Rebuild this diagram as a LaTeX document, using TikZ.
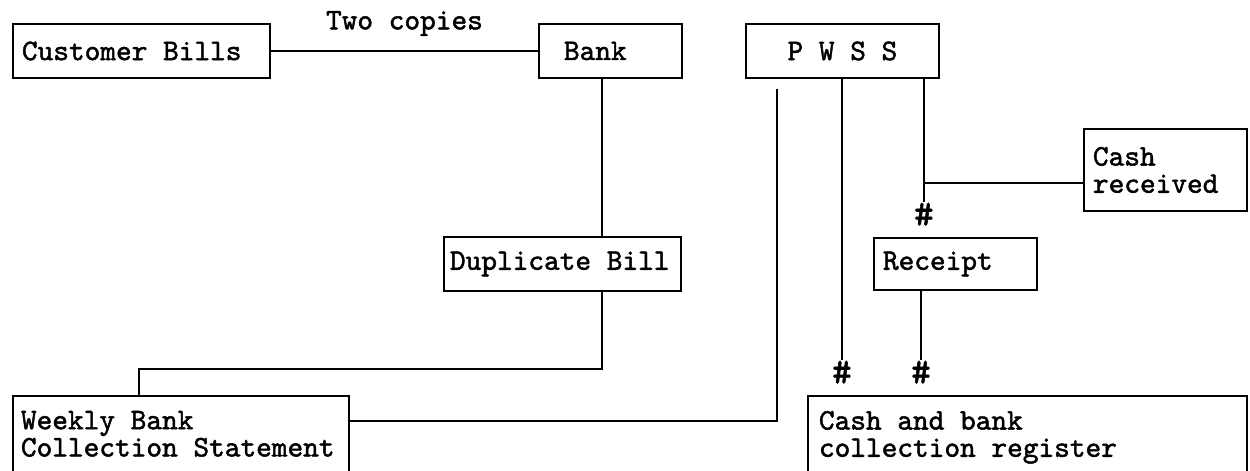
\documentclass[tikz,border=0pt]{standalone}
\usepackage{fontspec}
\newfontfamily\typer{lmmono10-regular.otf}[FakeBold=1.6]
\newcommand\typefont{\typer\fontsize{17pt}{15.5pt}\selectfont}
\usetikzlibrary{positioning}

\begin{document}
\begin{tikzpicture}[x=0.02cm, y=-0.02cm, line width=1.1pt, font=\typefont]
  \tikzstyle{block}=[draw=black,rectangle,anchor=north west,align=left,
                     inner ysep=0pt,text=black,
                     execute at begin node={\spaceskip=0.525em\xspaceskip=0.525em\relax}]
  \tikzstyle{hashmark}=[below,inner sep=0pt,font=\typer\fontsize{21pt}{21pt}\selectfont]

  \useasboundingbox (0,0) rectangle (1250,470);
  \clip (0,0) rectangle (1250,470);

  \node[block,inner xsep=0.18cm,text width=4.78cm,minimum height=1.08cm] (CB)   at (12,23)   {Customer Bills};
  \node[block,inner xsep=0.5cm,text width=1.86cm,minimum height=1.08cm]  (Bank) at (538,23)  {Bank};
  \node[block,inner xsep=0.5cm,text width=2.86cm,minimum height=1.08cm,align=center] (PWSS) at (745,23) {P W S S};
  \node[block,inner xsep=0.12cm,text width=4.5cm,minimum height=1.08cm]  (Dup)  at (443,236) {Duplicate Bill};
  \node[block,inner xsep=0.18cm,text width=2.9cm,minimum height=1.04cm]  (Rec)  at (873,237) {Receipt};
  \node[block,inner xsep=0.18cm,text width=2.9cm,minimum height=1.64cm]  (Cash) at (1083,128) {Cash\\received};
  \node[block,inner xsep=0.16cm,text width=6.4cm,inner ysep=0.3cm,text depth=2cm]  (Week) at (12,395)  {Weekly Bank\\Collection Statement};
  \node[block,inner xsep=0.22cm,text width=8.34cm,inner ysep=0.3cm,text depth=2cm] (Reg)  at (807,395) {Cash and bank\\collection register};

  % bills to bank
  \path (CB) edge node[above=0.28cm,inner sep=0pt] {Two copies} (Bank);

  % bank -- duplicate bill -- weekly statement
  \coordinate (bl) at ([xshift=-0.17cm]Bank.south);
  \draw (bl) -- (bl |- Dup.north);
  \draw (bl |- Dup.south) -- ++(0,77) -| ([xshift=2.54cm]Week.north west);

  % lines from P W S S
  \draw ([shift={(32,10)}]PWSS.south west) |- ([yshift=-0.52cm]Week.north east);
  \draw ([xshift=-0.01cm]PWSS.south) -- ++(0,281) node[hashmark] {\#};
  \coordinate (s3) at ([xshift=-0.32cm]PWSS.south east);
  \draw (s3) -- ++(0,123) node[hashmark] {\#};
  \draw ([yshift=-0.26cm]Cash.west) -- ([yshift=-0.26cm]Cash.west -| s3);
  \draw ([xshift=0.96cm]Rec.south west) -- ++(0,69) node[hashmark] {\#};
\end{tikzpicture}
\end{document}
